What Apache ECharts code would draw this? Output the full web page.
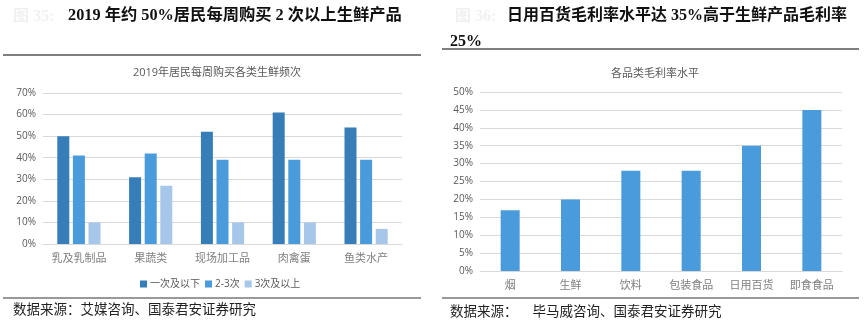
<!DOCTYPE html>
<html>
<head>
<meta charset="utf-8">
<script src="https://cdn.jsdelivr.net/npm/echarts@6/dist/echarts.min.js"></script>
<style>
  html, body { margin: 0; padding: 0; background: #fff; }
  #chart { width: 864px; height: 325px; }
</style>
</head>
<body>
<div id="chart"></div>
<script>
// Weekly fresh-food purchase frequency by category (2019), in %
const freqCategories = ['乳及乳制品', '果蔬类', '现场加工品', '肉禽蛋', '鱼类水产'];
const freqOnceOrLess = [50, 31, 52, 61, 54];
const freqTwoToThree = [41, 42, 39, 39, 39];
const freqThreePlus = [10, 27, 10, 10, 7];
const freqSeriesNames = ['一次及以下', '2-3次', '3次及以上'];
const freqTicks = [0, 10, 20, 30, 40, 50, 60, 70];

// Gross margin by product category, in %
const marginCategories = ['烟', '生鲜', '饮料', '包装食品', '日用百货', '即食食品'];
const marginValues = [17, 20, 28, 28, 35, 45];
const marginTicks = [0, 5, 10, 15, 20, 25, 30, 35, 40, 45, 50];

const headFont = "'Liberation Serif', 'Noto Sans CJK SC', serif";
const cjk = "'Noto Sans CJK SC', sans-serif";
const latin = "'Open Sans', 'Noto Sans CJK SC', sans-serif";
const gridColor = '#d9d9d9';
const axisText = '#595959';

const chart = echarts.init(document.getElementById('chart'), null, { renderer: 'canvas' });

const pctLabel = (v) => v + '%';

chart.setOption({
  animation: false,
  backgroundColor: '#fff',
  title: [
    {
      text: '2019年居民每周购买各类生鲜频次',
      left: 212, top: 62, textAlign: 'center',
      textStyle: { fontFamily: latin, fontSize: 11, fontWeight: 'normal', color: axisText }
    },
    {
      text: '各品类毛利率水平',
      left: 650, top: 62, textAlign: 'center',
      textStyle: { fontFamily: cjk, fontSize: 11, fontWeight: 'normal', color: axisText }
    }
  ],
  legend: {
    data: freqSeriesNames,
    left: 135, top: 274,
    itemWidth: 7, itemHeight: 7, itemGap: 5,
    icon: 'rect',
    textStyle: { fontFamily: latin, fontSize: 10, color: axisText, padding: [0, 0, 0, -2] }
  },
  grid: [
    { left: 43, right: 462, top: 93, bottom: 81 },
    { left: 480, right: 22, top: 92, bottom: 54 }
  ],
  xAxis: [
    {
      type: 'category', gridIndex: 0, data: freqCategories,
      axisLine: { lineStyle: { color: gridColor } },
      axisTick: { show: false },
      axisLabel: { fontFamily: cjk, fontSize: 11, color: '#808080', margin: 8 }
    },
    {
      type: 'category', gridIndex: 1, data: marginCategories,
      axisLine: { lineStyle: { color: gridColor } },
      axisTick: { show: false },
      axisLabel: { fontFamily: cjk, fontSize: 11, color: '#808080', margin: 8 }
    }
  ],
  yAxis: [
    {
      type: 'value', gridIndex: 0,
      min: freqTicks[0], max: freqTicks[freqTicks.length - 1], interval: 10,
      axisLine: { show: false }, axisTick: { show: false },
      splitLine: { lineStyle: { color: gridColor, width: 1 } },
      axisLabel: { formatter: pctLabel, fontFamily: latin, fontSize: 10, color: axisText, margin: 7 }
    },
    {
      type: 'value', gridIndex: 1,
      min: marginTicks[0], max: marginTicks[marginTicks.length - 1], interval: 5,
      axisLine: { show: false }, axisTick: { show: false },
      splitLine: { lineStyle: { color: gridColor, width: 1 } },
      axisLabel: { formatter: pctLabel, fontFamily: latin, fontSize: 10, color: axisText, margin: 7 }
    }
  ],
  series: [
    {
      name: freqSeriesNames[0], type: 'bar', xAxisIndex: 0, yAxisIndex: 0,
      data: freqOnceOrLess, barWidth: 12, barGap: '30%',
      itemStyle: { color: '#377db8' }
    },
    {
      name: freqSeriesNames[1], type: 'bar', xAxisIndex: 0, yAxisIndex: 0,
      data: freqTwoToThree, barWidth: 12, barGap: '30%',
      itemStyle: { color: '#4a9bdb' }
    },
    {
      name: freqSeriesNames[2], type: 'bar', xAxisIndex: 0, yAxisIndex: 0,
      data: freqThreePlus, barWidth: 12, barGap: '30%',
      itemStyle: { color: '#a7c7ea' }
    },
    {
      name: '毛利率', type: 'bar', xAxisIndex: 1, yAxisIndex: 1,
      data: marginValues, barWidth: 19,
      itemStyle: { color: '#4a9bdb' }
    }
  ],
  graphic: [
    // Figure numbers (printed very faintly)
    { type: 'text', left: 13, top: 9, style: { text: '图 35:', font: 'bold 16px ' + headFont, fill: '#f1f1f1' } },
    { type: 'text', left: 455, top: 9, style: { text: '图 36:', font: 'bold 16px ' + headFont, fill: '#f1f1f1' } },
    // Headings
    { type: 'text', left: 68, top: 8, style: { text: '2019 年约 50%居民每周购买 2 次以上生鲜产品', font: 'bold 16.3px ' + headFont, fill: '#111' } },
    { type: 'text', left: 507, top: 8, style: { text: '日用百货毛利率水平达 35%高于生鲜产品毛利率', font: 'bold 16px ' + headFont, fill: '#111' } },
    { type: 'text', left: 450, top: 34, style: { text: '25%', font: 'bold 16px ' + headFont, fill: '#111' } },
    // Rules
    { type: 'line', shape: { x1: 3, y1: 55, x2: 421, y2: 55 }, style: { stroke: '#555', lineWidth: 1.5 } },
    { type: 'line', shape: { x1: 442, y1: 49, x2: 859, y2: 49 }, style: { stroke: '#555', lineWidth: 1.5 } },
    { type: 'line', shape: { x1: 3, y1: 298, x2: 421, y2: 298 }, style: { stroke: '#777', lineWidth: 1.5 } },
    { type: 'line', shape: { x1: 442, y1: 298, x2: 859, y2: 298 }, style: { stroke: '#777', lineWidth: 1.5 } },
    // Sources
    { type: 'text', left: 13, top: 302, style: { text: '数据来源：艾媒咨询、国泰君安证券研究', font: '13.5px ' + cjk, fill: '#222' } },
    { type: 'text', left: 450, top: 304, style: { text: '数据来源：     毕马威咨询、国泰君安证券研究', font: '13.5px ' + cjk, fill: '#222' } }
  ]
});
</script>
</body>
</html>
